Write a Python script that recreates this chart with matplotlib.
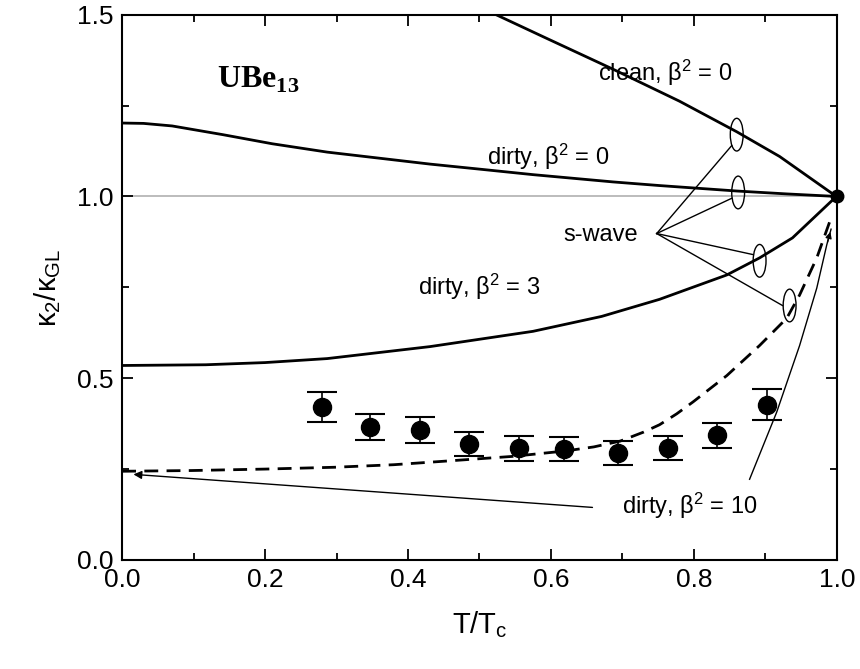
import numpy as np
import matplotlib
matplotlib.use('Agg')
import matplotlib.pyplot as plt
from matplotlib.patches import Ellipse
from matplotlib.ticker import MultipleLocator

plt.rcParams['font.family'] = ['Liberation Sans', 'DejaVu Sans']
plt.rcParams['mathtext.fontset'] = 'custom'
plt.rcParams['mathtext.rm'] = 'Liberation Sans'
plt.rcParams['mathtext.it'] = 'Liberation Sans:italic'
plt.rcParams['mathtext.bf'] = 'Liberation Serif:bold'

# measured data (UBe13)
t_data = [0.280, 0.347, 0.417, 0.486, 0.555, 0.618, 0.694, 0.764, 0.832, 0.902]
k_data = [0.421, 0.366, 0.357, 0.319, 0.307, 0.305, 0.294, 0.308, 0.343, 0.427]
k_err = [0.042, 0.036, 0.036, 0.034, 0.034, 0.034, 0.034, 0.034, 0.034, 0.042]

# theory curves
t_clean0 = [0.519, 0.594, 0.687, 0.780, 0.860, 0.920, 0.990, 1.0]
k_clean0 = [1.504, 1.435, 1.350, 1.262, 1.178, 1.110, 1.013, 1.0]

t_dirty0 = [0.0, 0.03, 0.07, 0.141, 0.21, 0.287, 0.431, 0.501, 0.575, 0.687, 0.752, 0.86, 0.93, 1.0]
k_dirty0 = [1.202, 1.201, 1.194, 1.170, 1.145, 1.122, 1.089, 1.075, 1.060, 1.040, 1.030, 1.015, 1.007, 1.0]

t_dirty3 = [0.0, 0.117, 0.2, 0.287, 0.431, 0.575, 0.671, 0.752, 0.846, 0.892, 0.938, 0.994, 1.0]
k_dirty3 = [0.535, 0.537, 0.543, 0.554, 0.587, 0.629, 0.670, 0.717, 0.784, 0.831, 0.886, 0.99, 1.0]

t_dirty10 = [0.0, 0.097, 0.2, 0.297, 0.38, 0.446, 0.547, 0.621, 0.66, 0.697, 0.73, 0.752,
             0.776, 0.799, 0.846, 0.892, 0.930, 0.948, 0.972, 0.99]
k_dirty10 = [0.244, 0.246, 0.250, 0.255, 0.262, 0.271, 0.285, 0.300, 0.311, 0.327, 0.352, 0.372,
             0.402, 0.435, 0.507, 0.590, 0.665, 0.729, 0.831, 0.93]

# thin pointer curve from the beta^2 = 10 label
t_ptr = [0.878, 0.916, 0.948, 0.972, 0.986, 0.992]
k_ptr = [0.222, 0.407, 0.590, 0.748, 0.867, 0.91]

# s-wave markers (ellipses) on the curves
swave_origin = (0.748, 0.898)
ell_x = [0.860, 0.862, 0.892, 0.934]
ell_y = [1.170, 1.011, 0.823, 0.700]
line_end_x = [0.853, 0.853, 0.883, 0.924]
line_end_y = [1.14, 0.995, 0.84, 0.70]

fig = plt.figure(figsize=(8.6, 6.69), dpi=100)
ax = fig.add_axes([0.142, 0.163, 0.831, 0.815])

ax.axhline(1.0, color='#b0b0b0', lw=1.2, zorder=1)

ax.plot(t_clean0, k_clean0, color='black', lw=2.0)
ax.plot(t_dirty0, k_dirty0, color='black', lw=2.0)
ax.plot(t_dirty3, k_dirty3, color='black', lw=2.0)
ax.plot(t_dirty10, k_dirty10, color='black', lw=2.0, dashes=(5, 3))
ax.plot(t_ptr, k_ptr, color='black', lw=1.0)
ax.annotate('', xy=(t_ptr[-1], k_ptr[-1]), xytext=(t_ptr[-2], k_ptr[-2]),
            arrowprops=dict(arrowstyle='-|>', color='black', lw=1.0, mutation_scale=9))

ax.errorbar(t_data, k_data, yerr=k_err, fmt='o', color='black', ms=13,
            capsize=11, elinewidth=1.2, capthick=1.5, zorder=5)
ax.plot([1.0], [1.0], 'o', color='black', ms=9, clip_on=False, zorder=6)

for ex, ey, lx, ly in zip(ell_x, ell_y, line_end_x, line_end_y):
    ax.add_patch(Ellipse((ex, ey), 0.018, 0.09, fill=False, ec='black', lw=1.0))
    ax.plot([swave_origin[0], lx], [swave_origin[1], ly], color='black', lw=1.0)

ax.annotate('', xy=(0.012, 0.236), xytext=(0.662, 0.144),
            arrowprops=dict(arrowstyle='-|>', color='black', lw=1.0, mutation_scale=12))

ax.text(0.76, 1.34, r'clean, $\mathrm{\beta}^2$ = 0', fontsize=17, ha='center', va='center')
ax.text(0.596, 1.108, r'dirty, $\mathrm{\beta}^2$ = 0', fontsize=17, ha='center', va='center')
ax.text(0.50, 0.75, r'dirty, $\mathrm{\beta}^2$ = 3', fontsize=17, ha='center', va='center')
ax.text(0.795, 0.15, r'dirty, $\mathrm{\beta}^2$ = 10', fontsize=17, ha='center', va='center')
ax.text(0.67, 0.895, 's-wave', fontsize=17, ha='center', va='center')
ax.text(0.19, 1.32, r'UBe$_{\mathbf{13}}$', fontsize=23, ha='center', va='center',
        family='Liberation Serif', fontweight='bold')

ax.set_xlim(0, 1.0)
ax.set_ylim(0, 1.5)
ax.xaxis.set_major_locator(MultipleLocator(0.2))
ax.xaxis.set_minor_locator(MultipleLocator(0.1))
ax.yaxis.set_major_locator(MultipleLocator(0.5))
ax.yaxis.set_minor_locator(MultipleLocator(0.25))
ax.tick_params(which='both', direction='in', top=True, right=True, labelsize=19, width=1.3)
ax.tick_params(which='major', length=8, pad=6)
ax.tick_params(which='minor', length=5)
for s in ax.spines.values():
    s.set_linewidth(1.5)

ax.set_xlabel(r'T/T$_\mathrm{c}$', fontsize=21, labelpad=12)
ax.set_ylabel(r'κ$_2$/κ$_{\mathrm{GL}}$', fontsize=21, labelpad=10)

fig.savefig('out.png', dpi=100)
